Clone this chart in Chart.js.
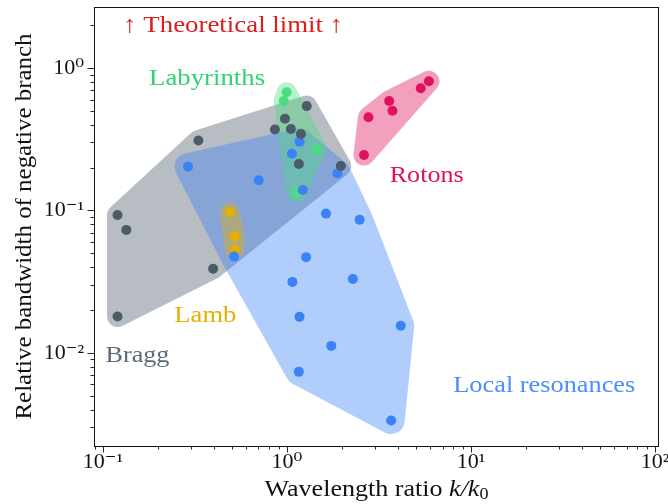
<!DOCTYPE html>
<html>
<head>
<meta charset="utf-8">
<script src="https://cdn.jsdelivr.net/npm/chart.js@4.4.1/dist/chart.umd.min.js"></script>
<style>
  html, body { margin: 0; padding: 0; background: #fff; }
  #wrap { width: 668px; height: 504px; }
</style>
</head>
<body>
<div id="wrap"><canvas id="chart" width="668" height="504"></canvas></div>
<script>
// values (x = k/k0, y = relative bandwidth)
const braggX = [0.12, 0.134, 0.12, 0.397, 0.33, 0.86, 1.05, 0.975, 1.28, 1.19, 1.16, 1.96];
const braggY = [0.093, 0.073, 0.018, 0.039, 0.31, 0.37, 0.373, 0.44, 0.54, 0.344, 0.212, 0.205];

const localX = [0.29, 0.702, 1.17, 1.064, 1.22, 1.88, 1.63, 2.48, 0.516, 1.27, 1.07, 2.28, 1.17, 1.74, 1.16, 4.15, 3.68];
const localY = [0.203, 0.163, 0.303, 0.25, 0.139, 0.182, 0.095, 0.086, 0.0474, 0.047, 0.0315, 0.033, 0.0179, 0.0112, 0.00736, 0.0155, 0.00335];

const labyX = [0.996, 0.96, 1.45, 1.13];
const labyY = [0.675, 0.587, 0.27, 0.133];

const lambX = [0.489, 0.521, 0.521];
const lambY = [0.097, 0.066, 0.0534];

const rotonX = [5.9, 5.33, 3.59, 3.74, 2.77, 2.62];
const rotonY = [0.807, 0.721, 0.587, 0.501, 0.451, 0.245];

const xMajorTicks = [0.1, 1, 10, 100];
const yMajorTicks = [0.01, 0.1, 1];

const groupNames = ['Bragg', 'Local resonances', 'Labyrinths', 'Lamb', 'Rotons'];
const groupColors = ['#4b5b67', '#3b82f6', '#4ade80', '#e6b000', '#e0115f'];
const hullColors = ['rgba(75,91,103,0.4)', 'rgba(59,130,246,0.4)', 'rgba(74,222,128,0.4)', 'rgba(230,176,0,0.4)', 'rgba(224,17,95,0.4)'];
const hullPads = [10.5, 13.5, 10, 9.7, 10.5];

// annotation text placed in data coordinates
const labelTexts = ['\u2191 Theoretical limit \u2191', 'Labyrinths', 'Rotons', 'Lamb', 'Bragg', 'Local resonances'];
const labelX = [0.51, 0.368, 5.74, 0.36, 0.154, 25.0];
const labelY = [1.97, 0.837, 0.175, 0.0182, 0.00953, 0.00586];
const labelColors = ['#d81e1e', '#2fd372', '#e0115f', '#e6b000', '#5b6b78', '#4d8ff7'];
const labelWidths = [220, 116, 74, 62, 64, 182];

const SERIF = '"Liberation Serif", "DejaVu Serif", serif';
const zip = (xs, ys) => xs.map((x, i) => ({ x, y: ys[i] }));
const groups = [zip(braggX, braggY), zip(localX, localY), zip(labyX, labyY), zip(lambX, lambY), zip(rotonX, rotonY)];

const supMap = { '-': '\u207b', '0': '\u2070', '1': '\u00b9', '2': '\u00b2', '3': '\u00b3' };
const powLabel = v => '10' + String(Math.round(Math.log10(v))).split('').map(c => supMap[c]).join('');

function convexHull(pts) {
    pts = pts.slice().sort((a, b) => a.x - b.x || a.y - b.y);
    const cross = (o, a, b) => (a.x - o.x) * (b.y - o.y) - (a.y - o.y) * (b.x - o.x);
    const lower = [], upper = [];
    pts.forEach(p => {
        while (lower.length >= 2 && cross(lower[lower.length - 2], lower[lower.length - 1], p) <= 0) lower.pop();
        lower.push(p);
    });
    for (let i = pts.length - 1; i >= 0; i--) {
        const p = pts[i];
        while (upper.length >= 2 && cross(upper[upper.length - 2], upper[upper.length - 1], p) <= 0) upper.pop();
        upper.push(p);
    }
    upper.pop(); lower.pop();
    return lower.concat(upper);
}

// rounded, padded hull: edges pushed out by pad, vertices become arcs
function hullPath(ctx, pts, pad) {
    let h = convexHull(pts);
    let area = 0;
    h.forEach((p, i) => { const q = h[(i + 1) % h.length]; area += p.x * q.y - q.x * p.y; });
    if (area < 0) h = h.reverse();
    const n = h.length;
    const normalAng = i => {
        const a = h[i], b = h[(i + 1) % n];
        return Math.atan2(-(b.x - a.x), b.y - a.y);
    };
    ctx.beginPath();
    for (let i = 0; i < n; i++) {
        const prev = normalAng((i - 1 + n) % n);
        const next = normalAng(i);
        ctx.arc(h[i].x, h[i].y, pad, prev, next, false);
    }
    ctx.closePath();
}

const hullPlugin = {
    id: 'hulls',
    beforeDatasetsDraw(chart) {
        const { ctx, chartArea, scales } = chart;
        ctx.save();
        ctx.beginPath();
        ctx.rect(chartArea.left, chartArea.top, chartArea.width, chartArea.height);
        ctx.clip();
        groups.forEach((g, gi) => {
            const px = g.map(p => ({ x: scales.x.getPixelForValue(p.x), y: scales.y.getPixelForValue(p.y) }));
            hullPath(ctx, px, hullPads[gi]);
            ctx.fillStyle = hullColors[gi];
            ctx.fill();
        });
        ctx.restore();
    }
};

function drawFit(ctx, text, cx, cy, size, color, targetW) {
    ctx.font = `${size}px ${SERIF}`;
    const w = ctx.measureText(text).width;
    ctx.save();
    ctx.translate(cx, cy);
    ctx.scale(targetW / w, 1);
    ctx.textAlign = 'center';
    ctx.textBaseline = 'middle';
    ctx.fillStyle = color;
    ctx.fillText(text, 0, 0);
    ctx.restore();
}

const framePlugin = {
    id: 'frame',
    afterDraw(chart) {
        const { ctx, chartArea: a, scales } = chart;
        ctx.save();
        ctx.strokeStyle = '#111';
        ctx.lineWidth = 0.9;

        // tick marks, majors and minors (1..9 x 10^n)
        const drawTicks = (scale, horizontal) => {
            const lo = Math.floor(Math.log10(scale.min)), hi = Math.ceil(Math.log10(scale.max));
            for (let e = lo; e <= hi; e++) {
                for (let k = 1; k <= 9; k++) {
                    const v = k * Math.pow(10, e);
                    if (v < scale.min || v > scale.max) continue;
                    const p = Math.round(scale.getPixelForValue(v)) + 0.5;
                    const len = k === 1 ? 6.5 : 3.5;
                    ctx.beginPath();
                    if (horizontal) { ctx.moveTo(p, a.bottom); ctx.lineTo(p, a.bottom + len); }
                    else { ctx.moveTo(a.left, p); ctx.lineTo(a.left - len, p); }
                    ctx.stroke();
                }
            }
        };
        drawTicks(scales.x, true);
        drawTicks(scales.y, false);

        ctx.lineWidth = 1;
        ctx.strokeRect(a.left + 0.5, a.top + 0.5, a.width - 1, a.height);

        // annotations
        labelTexts.forEach((t, i) => {
            drawFit(ctx, t, scales.x.getPixelForValue(labelX[i]), scales.y.getPixelForValue(labelY[i]), 24, labelColors[i], labelWidths[i]);
        });

        // y title
        ctx.save();
        ctx.translate(25, (a.top + a.bottom) / 2);
        ctx.rotate(-Math.PI / 2);
        drawFit(ctx, 'Relative bandwidth of negative branch', 0, 0, 23, '#111', 386);
        ctx.restore();

        // x title with italic k/k0
        const parts = [
            { t: 'Wavelength ratio ', f: `23px ${SERIF}`, dy: 0 },
            { t: 'k/k', f: `italic 23px ${SERIF}`, dy: 0 },
            { t: '0', f: `16px ${SERIF}`, dy: 5 }
        ];
        let total = 0;
        parts.forEach(p => { ctx.font = p.f; p.w = ctx.measureText(p.t).width; total += p.w; });
        const sx = 224 / total;
        ctx.save();
        ctx.translate((a.left + a.right) / 2 - total * sx / 2, 490);
        ctx.scale(sx, 1);
        ctx.fillStyle = '#111';
        ctx.textBaseline = 'middle';
        ctx.textAlign = 'left';
        let cx = 0;
        parts.forEach(p => { ctx.font = p.f; ctx.fillText(p.t, cx, p.dy); cx += p.w; });
        ctx.restore();

        ctx.restore();
    }
};

const datasets = groups.map((g, i) => ({
    label: groupNames[i],
    data: g,
    backgroundColor: groupColors[i],
    borderWidth: 0,
    pointRadius: 5,
    pointHoverRadius: 5
}));

new Chart(document.getElementById('chart'), {
    type: 'scatter',
    data: { datasets },
    options: {
        responsive: false,
        animation: false,
        devicePixelRatio: 1,
        layout: { padding: { top: 7, right: 9, left: 0, bottom: 0 } },
        plugins: { legend: { display: false }, tooltip: { enabled: false } },
        scales: {
            x: {
                type: 'logarithmic',
                min: 0.0894,
                max: 105,
                afterBuildTicks: s => { s.ticks = xMajorTicks.map(v => ({ value: v, major: true })); },
                afterFit: s => { s.height = 58; s.paddingLeft = 0; s.paddingRight = 0; },
                grid: { display: false, drawTicks: false },
                border: { display: false },
                ticks: {
                    autoSkip: false, maxRotation: 0, padding: 3, color: '#111',
                    font: { family: SERIF, size: 22 },
                    callback: v => powLabel(v)
                }
            },
            y: {
                type: 'logarithmic',
                min: 0.00222,
                max: 2.68,
                afterBuildTicks: s => { s.ticks = yMajorTicks.map(v => ({ value: v, major: true })); },
                afterFit: s => { s.width = 94; s.paddingTop = 0; s.paddingBottom = 0; },
                grid: { display: false, drawTicks: false },
                border: { display: false },
                ticks: {
                    autoSkip: false, padding: 10, color: '#111',
                    font: { family: SERIF, size: 22 },
                    callback: v => powLabel(v)
                }
            }
        }
    },
    plugins: [hullPlugin, framePlugin]
});
</script>
</body>
</html>
